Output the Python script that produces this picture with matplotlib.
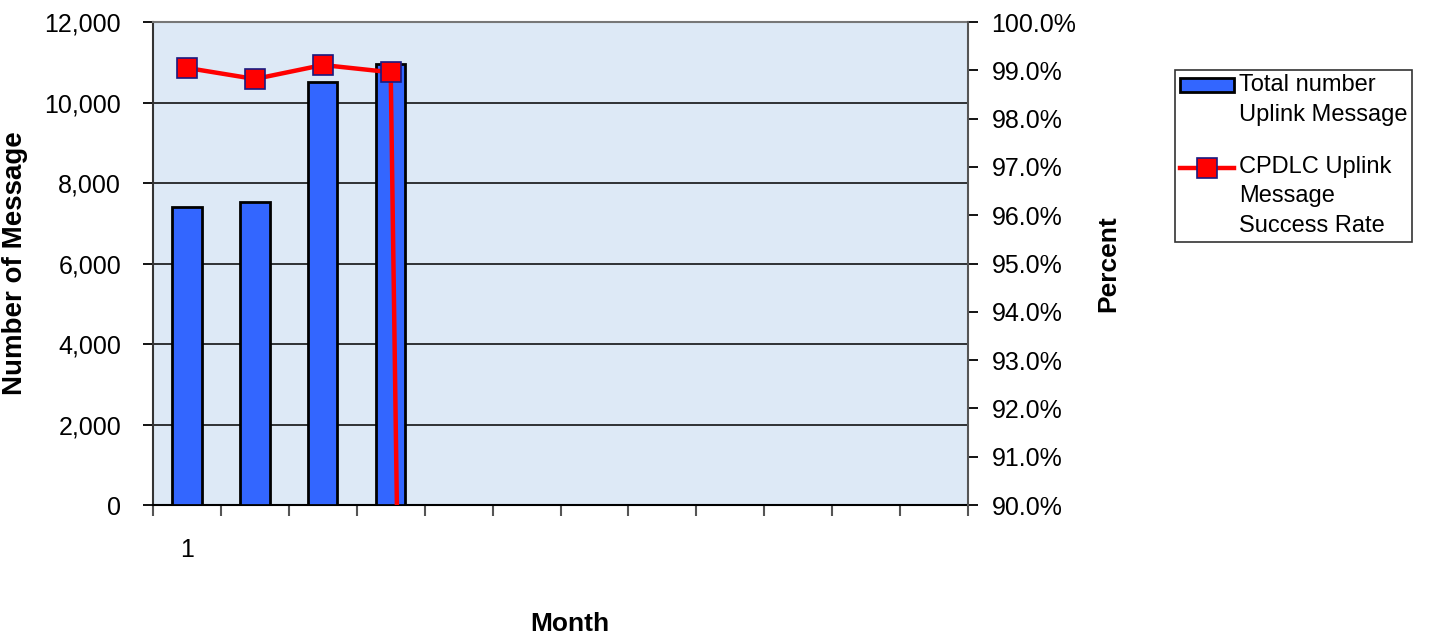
import matplotlib.pyplot as plt
from matplotlib.legend_handler import HandlerLine2D, HandlerPatch
from matplotlib.ticker import PercentFormatter, MultipleLocator, FixedLocator, FuncFormatter

plt.rcParams['font.family'] = ['Liberation Sans', 'DejaVu Sans']

months = list(range(1, 13))
month_labels = ['1'] + [''] * 11
uplink_total = [7400, 7520, 10500, 10950, 0, 0, 0, 0, 0, 0, 0, 0]
success_rate = [0.9905, 0.9882, 0.9911, 0.9896, 0, 0, 0, 0, 0, 0, 0, 0]
series_names = ['Total number\nUplink Message',
                'CPDLC Uplink\nMessage\nSuccess Rate']


# legend keys sit level with the first line of a wrapped label
class RaisedPatch(HandlerPatch):
    def __init__(self, shift, **kw):
        super().__init__(**kw)
        self.shift = shift

    def create_artists(self, legend, orig_handle, xdescent, ydescent,
                       width, height, fontsize, trans):
        return super().create_artists(legend, orig_handle, xdescent,
                                      ydescent - self.shift, width, height,
                                      fontsize, trans)


class RaisedLine(HandlerLine2D):
    def __init__(self, shift, **kw):
        super().__init__(**kw)
        self.shift = shift

    def create_artists(self, legend, orig_handle, xdescent, ydescent,
                       width, height, fontsize, trans):
        return super().create_artists(legend, orig_handle, xdescent,
                                      ydescent - 2 * self.shift, width,
                                      height, fontsize, trans)


fig = plt.figure(figsize=(14.37, 6.4), dpi=100)
ax = fig.add_axes([0.1065, 0.2109, 0.5671, 0.7547])
ax.set_facecolor('#dde9f6')

bars = ax.bar(months, uplink_total, width=0.43, color='#3366ff',
              edgecolor='black', linewidth=2, zorder=3)
ax.set_xlim(0.5, 12.5)
ax.set_ylim(0, 12000)
ax.yaxis.set_major_locator(MultipleLocator(2000))
ax.yaxis.set_major_formatter(FuncFormatter(lambda v, p: f'{v:,.0f}'))
ax.grid(axis='y', color='black', linewidth=1.1, zorder=1)
ax.set_axisbelow(True)

# month labels at bar centres, tick marks at the category boundaries
ax.set_xticks(months)
ax.set_xticklabels(month_labels)
ax.xaxis.set_minor_locator(FixedLocator([m + 0.5 for m in range(0, 13)]))
ax.tick_params(axis='x', which='major', length=0, pad=24, labelsize=18)
ax.tick_params(axis='x', which='minor', length=8, width=1.5, color='#555555')
ax.tick_params(axis='y', direction='out', length=7, width=1.3,
               labelsize=18, pad=16)

ax.spines['top'].set_color('#777777')
ax.spines['top'].set_linewidth(1.5)
ax.spines['right'].set_visible(False)
ax.spines['left'].set_color('#333333')
ax.spines['left'].set_linewidth(1.5)
ax.spines['bottom'].set_linewidth(1.5)

ax.set_ylabel('Number of Message', fontsize=20, fontweight='bold')
ax.yaxis.set_label_coords(-0.153, 0.5)
ax.set_xlabel('Month', fontsize=19, fontweight='bold')
ax.xaxis.set_label_coords(0.511, -0.222)

ax2 = ax.twinx()
line, = ax2.plot(months, success_rate, color='red', linewidth=3.2,
                 marker='s', markersize=15, markerfacecolor='red',
                 markeredgecolor='#1a1a80', markeredgewidth=1.2, zorder=4)
ax2.set_ylim(0.90, 1.00)
ax2.yaxis.set_major_locator(MultipleLocator(0.01))
ax2.yaxis.set_major_formatter(PercentFormatter(xmax=1, decimals=1))
ax2.tick_params(axis='y', direction='out', length=7, width=1.3,
                labelsize=18, pad=10)
for side in ['top', 'left', 'bottom']:
    ax2.spines[side].set_visible(False)
ax2.spines['right'].set_color('#555555')
ax2.spines['right'].set_linewidth(1.5)
ax2.set_ylabel('Percent', fontsize=19, fontweight='bold')
ax2.yaxis.set_label_coords(1.158, 0.5)

bar_key = bars.patches[0]
leg = fig.legend([bar_key, line], series_names, loc='upper left',
                 bbox_to_anchor=(0.818, 0.891), fontsize=17,
                 frameon=True, fancybox=False, edgecolor='black',
                 handlelength=2.3, handletextpad=0.2, labelspacing=1.25,
                 borderpad=0.2, borderaxespad=0, handleheight=0.5,
                 handler_map={bar_key: RaisedPatch(11),
                              line: RaisedLine(21)})
leg.get_frame().set_linewidth(1.2)
for t in leg.get_texts():
    t.set_linespacing(1.45)

fig.savefig('out.png', dpi=100)
